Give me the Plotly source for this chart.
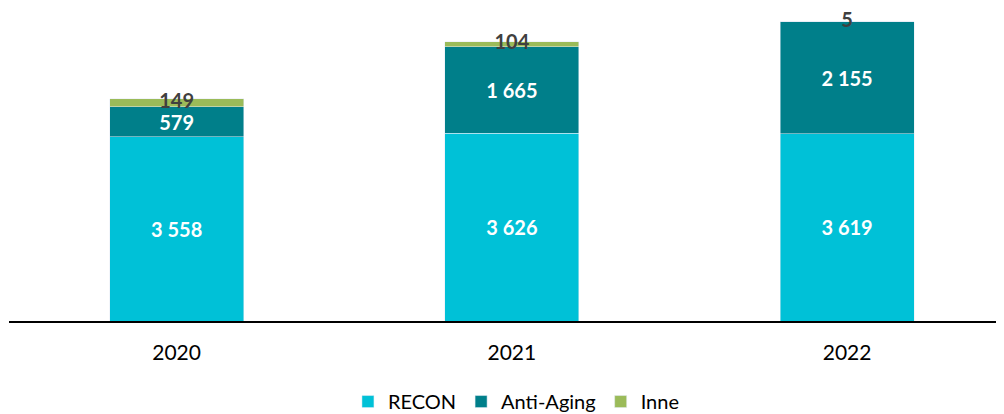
import plotly.graph_objects as go

years = ["2020", "2021", "2022"]
recon = [3558, 3626, 3619]
anti_aging = [579, 1665, 2155]
inne = [149, 104, 5]

recon_labels = ["3 558", "3 626", "3 619"]
anti_labels = ["579", "1 665", "2 155"]
inne_labels = ["149", "104", "5"]

c_recon = "#00C1D7"
c_anti = "#007F8A"
c_inne = "#9BBB59"
font_family = "Lato, 'Open Sans', sans-serif"
lbl_size = 20

fig = go.Figure()
fig.add_trace(go.Bar(x=years, y=recon, name="RECON", marker_color=c_recon,
                     text=recon_labels, textposition="inside", insidetextanchor="middle",
                     textfont=dict(color="white", size=lbl_size, family=font_family, weight="bold"),
                     width=0.4))
fig.add_trace(go.Bar(x=years, y=anti_aging, name="Anti-Aging", marker_color=c_anti,
                     text=anti_labels, textposition="inside", insidetextanchor="middle",
                     textfont=dict(color="white", size=lbl_size, family=font_family, weight="bold"),
                     width=0.4))
fig.add_trace(go.Bar(x=years, y=inne, name="Inne", marker_color=c_inne, width=0.4,
                     hoverinfo="skip"))

label_y = [r + a + i / 2 for r, a, i in zip(recon, anti_aging, inne)]
fig.add_trace(go.Scatter(x=years, y=label_y, mode="text", text=inne_labels,
                         textposition="middle center", showlegend=False,
                         textfont=dict(color="#404040", size=lbl_size, family=font_family, weight="bold")))

fig.update_layout(
    barmode="stack",
    width=996, height=406,
    margin=dict(l=1, r=0, t=0, b=93, autoexpand=False),
    paper_bgcolor="white", plot_bgcolor="white",
    font=dict(family=font_family, color="#000000"),
    uniformtext=dict(minsize=8, mode="show"),
    legend=dict(orientation="h", x=0.51, xanchor="center", y=-0.195, yanchor="top",
                font=dict(size=20, color="#000000"), traceorder="normal",
                itemwidth=30),
    showlegend=True,
)
fig.update_xaxes(type="category", range=[-0.5, 2.468], showline=True, linecolor="black",
                 linewidth=2, ticks="", tickfont=dict(size=21, color="#000000"),
                 ticklabelstandoff=12, showgrid=False)
fig.update_yaxes(range=[0, 6042], visible=False, showgrid=False, zeroline=False)

fig.write_html("out.html")
